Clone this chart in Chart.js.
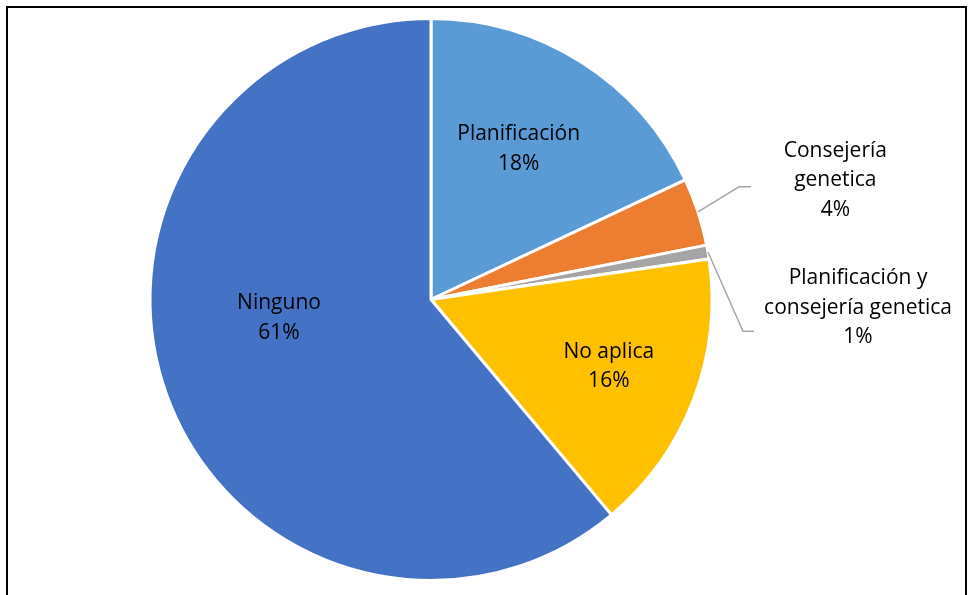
<!DOCTYPE html>
<html>
<head>
<meta charset="utf-8">
<script src="https://cdn.jsdelivr.net/npm/chart.js@4.4.1/dist/chart.umd.min.js"></script>
<style>
  html, body { margin: 0; padding: 0; background: #fff; overflow: hidden; }
  #wrap { position: relative; width: 969px; height: 595px; }
  #frame { position: absolute; left: 6px; top: 6px; width: 957px; height: 640px; border: 2px solid #000; }
  canvas { position: absolute; left: 0; top: 0; }
</style>
</head>
<body>
<div id="wrap">
  <div id="frame"></div>
  <canvas id="pieChart" width="969" height="595"></canvas>
</div>
<script>
// data (clockwise from 12 o'clock)
const categories = ['Planificación', 'Consejería genetica', 'Planificación y consejería genetica', 'No aplica', 'Ninguno'];
const shares = [18.0, 3.9, 0.8, 16.2, 61.1];
const sliceColors = ['#5B9BD5', '#ED7D31', '#A5A5A5', '#FFC000', '#4472C4'];

// label layout: text lines, where the text sits (angle from top in deg, fraction of radius)
const labelLines = [
  ['Planificación'],
  ['Consejería', 'genetica'],
  ['Planificación y', 'consejería genetica'],
  ['No aplica'],
  ['Ninguno']
];
const labelPlace = [
  {ang: 30.2, r: 0.62},
  {ang: 73.6, r: 1.50, elbow: {ang: 69.9, r: 1.167}, tail: 12},
  {ang: 91.1, r: 1.52, elbow: {ang: 95.8, r: 1.116}, tail: 11},
  {ang: 110.6, r: 0.676},
  {ang: 263, r: 0.545}
];

const total = shares.reduce((a, b) => a + b, 0);

const pieLabels = {
  id: 'pieLabels',
  afterDatasetsDraw(chart) {
    const ctx = chart.ctx;
    const arcs = chart.getDatasetMeta(0).data;
    ctx.save();
    ctx.font = '21px "Open Sans"';
    ctx.fillStyle = '#000';
    ctx.textAlign = 'center';
    ctx.textBaseline = 'middle';
    const lh = 29.5;
    arcs.forEach((arc, i) => {
      const p = arc.getProps(['x', 'y', 'startAngle', 'endAngle', 'outerRadius'], true);
      const R = p.outerRadius;
      const polar = (deg, f) => {
        const a = (deg - 90) * Math.PI / 180;
        return {x: p.x + Math.cos(a) * R * f, y: p.y + Math.sin(a) * R * f};
      };
      const pl = labelPlace[i];
      const c = polar(pl.ang, pl.r);
      const lines = labelLines[i].concat([Math.round(shares[i] / total * 100) + '%']);
      if (pl.elbow) {
        const mid = (p.startAngle + p.endAngle) / 2;
        const sx = p.x + Math.cos(mid) * R;
        const sy = p.y + Math.sin(mid) * R;
        const e = polar(pl.elbow.ang, pl.elbow.r);
        ctx.beginPath();
        ctx.strokeStyle = '#A6A6A6';
        ctx.lineWidth = 1.5;
        ctx.moveTo(sx, sy);
        ctx.lineTo(e.x, e.y);
        ctx.lineTo(e.x + pl.tail, e.y);
        ctx.stroke();
      }
      const y0 = c.y - (lines.length - 1) * lh / 2;
      lines.forEach((t, k) => ctx.fillText(t, c.x, y0 + k * lh));
    });
    ctx.restore();
  }
};

new Chart(document.getElementById('pieChart'), {
  type: 'pie',
  data: {
    labels: categories,
    datasets: [{
      data: shares,
      backgroundColor: sliceColors,
      borderColor: '#fff',
      borderWidth: 3
    }]
  },
  options: {
    responsive: false,
    animation: false,
    layout: { padding: { top: 17, bottom: 13, left: 100, right: 207 } },
    plugins: {
      legend: { display: false },
      tooltip: { enabled: false }
    }
  },
  plugins: [pieLabels]
});
</script>
</body>
</html>
